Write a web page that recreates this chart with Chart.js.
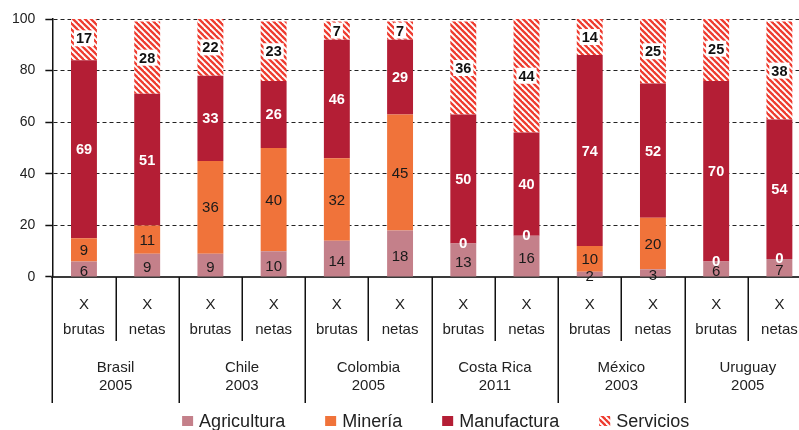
<!DOCTYPE html>
<html>
<head>
<meta charset="utf-8">
<script src="https://cdn.jsdelivr.net/npm/chart.js@4.4.1/dist/chart.umd.min.js"></script>
<style>
  html, body { margin: 0; padding: 0; background: #fff; overflow: hidden; }
  .chart-box { width: 812px; height: 430px; }
</style>
</head>
<body>
<div class="chart-box"><canvas id="exportChart"></canvas></div>
<script>
// data
const countries = ['Brasil', 'Chile', 'Colombia', 'Costa Rica', 'México', 'Uruguay'];
const years = ['2005', '2003', '2005', '2011', '2003', '2005'];
const flowTypes = ['brutas', 'netas'];
const yTicks = [0, 20, 40, 60, 80, 100];

const agricultura = [6, 9, 9, 10, 14, 18, 13, 16, 2, 3, 6, 7];
const mineria     = [9, 11, 36, 40, 32, 45, 0, 0, 10, 20, 0, 0];
const manufactura = [69, 51, 33, 26, 46, 29, 50, 40, 74, 52, 70, 54];
const servicios   = [17, 28, 22, 23, 7, 7, 36, 44, 14, 25, 25, 38];

const FONT = "'Liberation Sans', Arial, sans-serif";
Chart.defaults.font.family = FONT;
Chart.defaults.color = '#222';

// diagonal hatch for Servicios
function makeHatch() {
    var s = 6;
    var c = document.createElement('canvas');
    c.width = s; c.height = s;
    var g = c.getContext('2d');
    g.fillStyle = '#ffffff';
    g.fillRect(0, 0, s, s);
    g.strokeStyle = '#ee3b2f';
    g.lineWidth = 2.3;
    for (var k = -1; k <= 1; k++) {
        g.beginPath();
        g.moveTo(k * s - 1, -1);
        g.lineTo(k * s + s + 1, s + 1);
        g.stroke();
    }
    return g.createPattern(c, 'repeat');
}
const hatch = makeHatch();

// two bars per country
const labels = [];
countries.forEach(function () {
    flowTypes.forEach(function (f) { labels.push(['X', f]); });
});

const labelStyles = [
    { color: '#1a1a1a', weight: 'normal', size: 15, dy: 2 },
    { color: '#1a1a1a', weight: 'normal', size: 15, dy: 0 },
    { color: '#ffffff', weight: 'bold', size: 14.5, dy: 0 },
    { color: '#111111', weight: 'bold', size: 14.5, dy: 0, box: true }
];

const barLabels = {
    id: 'barLabels',
    afterDatasetsDraw(chart) {
        const ctx = chart.ctx;
        ctx.save();
        ctx.textAlign = 'center';
        ctx.textBaseline = 'middle';
        chart.data.datasets.forEach(function (ds, di) {
            const meta = chart.getDatasetMeta(di);
            const st = labelStyles[di];
            meta.data.forEach(function (bar, i) {
                const v = ds.data[i];
                const txt = String(v);
                let y = (bar.y + bar.base) / 2 + st.dy;
                let color = st.color, weight = st.weight;
                if (v === 0) { color = '#ffffff'; weight = 'bold'; y = bar.y - 1; }
                ctx.font = weight + ' ' + st.size + 'px ' + FONT;
                if (st.box) {
                    const w = ctx.measureText(txt).width;
                    ctx.fillStyle = '#ffffff';
                    ctx.fillRect(bar.x - w / 2 - 2, y - 8, w + 4, 16);
                }
                ctx.fillStyle = color;
                ctx.fillText(txt, bar.x, y + 1);
            });
        });
        ctx.restore();
    }
};

const groupAxis = {
    id: 'groupAxis',
    afterDraw(chart) {
        const ctx = chart.ctx;
        const x = chart.scales.x;
        const area = chart.chartArea;
        const innerBottom = area.bottom + 64;
        const outerBottom = chart.height - 27;
        const edge = function (i) {
            if (i <= 0) return area.left;
            return (x.getPixelForValue(i - 1) + x.getPixelForValue(i)) / 2;
        };
        ctx.save();
        ctx.strokeStyle = '#111';
        ctx.lineWidth = 1.5;
        for (let i = 0; i < labels.length; i++) {
            const px = Math.round(edge(i)) + 0.25;
            ctx.beginPath();
            ctx.moveTo(px, area.bottom);
            ctx.lineTo(px, i % 2 === 0 ? outerBottom : innerBottom);
            ctx.stroke();
        }
        // country names
        ctx.fillStyle = '#222';
        ctx.font = '15px ' + FONT;
        ctx.textAlign = 'center';
        ctx.textBaseline = 'middle';
        const slot = x.getPixelForValue(1) - x.getPixelForValue(0);
        countries.forEach(function (c, g) {
            const l = edge(g * 2);
            const r = x.getPixelForValue(g * 2 + 1) + slot / 2;
            const cx = (l + r) / 2;
            ctx.fillText(c, cx, area.bottom + 91);
            ctx.fillText(years[g], cx, area.bottom + 109);
        });

        // legend
        const items = chart.data.datasets.map(function (d) { return { text: d.label, fill: d.backgroundColor }; });
        ctx.font = '18px ' + FONT;
        const box = 11, gap = 6, spacing = 40;
        let total = 0;
        items.forEach(function (it, k) {
            it.w = ctx.measureText(it.text).width;
            total += box + gap + it.w + (k ? spacing : 0);
        });
        let lx = (area.left + area.right) / 2 + 4 - total / 2;
        const ly = chart.height - 9;
        ctx.textAlign = 'left';
        items.forEach(function (it) {
            ctx.fillStyle = it.fill;
            ctx.fillRect(lx, ly - 5, box, box - 1);
            ctx.fillStyle = '#222';
            ctx.fillText(it.text, lx + box + gap, ly + 1);
            lx += box + gap + it.w + spacing;
        });
        ctx.restore();
    }
};

new Chart(document.getElementById('exportChart'), {
    type: 'bar',
    data: {
        labels: labels,
        datasets: [
            { label: 'Agricultura', data: agricultura, backgroundColor: '#c4808a' },
            { label: 'Minería', data: mineria, backgroundColor: '#f0733a' },
            { label: 'Manufactura', data: manufactura, backgroundColor: '#b41e35' },
            { label: 'Servicios', data: servicios, backgroundColor: hatch }
        ]
    },
    options: {
        responsive: true,
        maintainAspectRatio: false,
        animation: false,
        layout: { padding: { top: 19, left: 2, right: 1, bottom: 81 } },
        datasets: { bar: { barPercentage: 0.41, categoryPercentage: 1, borderWidth: 0 } },
        scales: {
            x: {
                stacked: true,
                z: 1,
                grid: { display: false },
                border: { display: true, color: '#3a3a3a', width: 2 },
                ticks: {
                    color: '#222',
                    padding: 7,
                    maxRotation: 0,
                    autoSkip: false,
                    font: { size: 15, lineHeight: 1.667 }
                }
            },
            y: {
                stacked: true,
                min: 0,
                max: 100,
                afterBuildTicks: function (scale) {
                    scale.ticks = yTicks.map(function (v) { return { value: v }; });
                },
                grid: {
                    color: '#222',
                    lineWidth: 1,
                    tickLength: 7,
                    tickColor: '#111',
                    tickWidth: 1.5,
                    tickBorderDash: []
                },
                border: { display: true, color: '#111', width: 1.5, dash: [4, 3] },
                ticks: { color: '#222', padding: 10, font: { size: 14 } }
            }
        },
        plugins: {
            legend: { display: false },
            tooltip: { enabled: false }
        }
    },
    plugins: [barLabels, groupAxis]
});
</script>
</body>
</html>
